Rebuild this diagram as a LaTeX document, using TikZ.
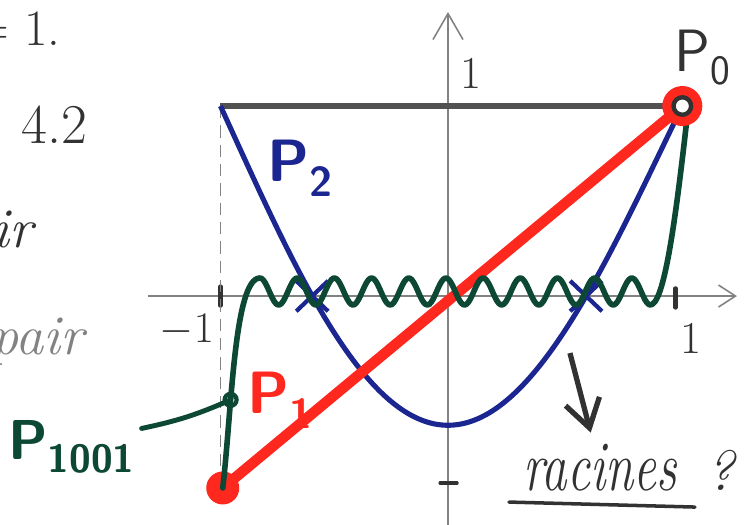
\documentclass[tikz,border=0pt]{standalone}
\usepackage{graphicx}
\usetikzlibrary{arrows.meta}

\definecolor{pred}{RGB}{255,40,30}
\definecolor{pblue}{RGB}{28,38,145}
\definecolor{pgreen}{RGB}{12,72,52}
\definecolor{pencil}{RGB}{50,50,50}
\definecolor{faint}{RGB}{130,130,130}

\newcommand*{\xmin}{-1.32}
\newcommand*{\xmax}{1.27}
\newcommand*{\ymin}{-1.25}
\newcommand*{\ymax}{1.495}
\newcommand*{\handsize}[1]{\fontsize{#1}{#1}\selectfont}

\tikzset{
	axis/.style={faint,line width=0.9pt},
	tickmark/.style={pencil,line width=2.5pt,line cap=round},
	pnum/.style={pencil,font=\handsize{26}},
	plabel/.style={font=\handsize{34}\sffamily},
	note/.style={pencil,font=\handsize{32}\itshape},
}

\begin{document}
\begin{tikzpicture}[x=4.55cm,y=3.8cm]

	\useasboundingbox (-1.969,-1.2) rectangle (1.301,1.558);
	\clip (-1.969,-1.2) rectangle (1.301,1.558);

	% notes in the margin
	\node[pencil,font=\handsize{29},anchor=base east] (eqone) at (-1.675,1.32) {= 1.};
	\node[pencil,font=\handsize{32},anchor=base west] (secnum) at (-1.90,0.805) {4.2};
	\node[note,anchor=base east] (noteir) at (-1.80,0.258) {ir};
	\node[note,text=faint,anchor=base east] (notepair) at (-1.574,-0.31) {pair};

	% axes
	\draw[axis,-{Straight Barb[length=0.34cm,width=0.44cm]}] (\xmin,0) -- (\xmax,0);
	\draw[axis,-{Straight Barb[length=0.52cm,width=0.6cm]}] (0,\ymin) -- (0,\ymax);
	\draw[tickmark] (-1,-0.05) -- (-1,0.05);
	\draw[tickmark] (1,-0.06) -- (1,0.04);
	\draw[tickmark,line width=1.8pt] (-0.035,-0.984) -- (0.04,-0.984);
	\node[pnum] (ytick) at (0.101,1.174) {1};
	\node[pnum] (xtickl) at (-1.147,-0.179) {$-1$};
	\node[pnum] (xtickr) at (1.068,-0.221) {1};

	\coordinate (P0) at (1.03,1);
	\coordinate (Pn) at (-0.99,-1.01);

	\draw[faint,line width=1pt,dash pattern=on 7pt off 4pt] (-1,1) -- (-1,-1);
	\draw[pencil!85,line width=3pt] (-1,1) -- (P0);

	% P_2 and its roots
	\draw[pblue,line width=2.9pt,domain=-1:1,samples=120,smooth] plot ({\x*(1.015+0.015*\x)},{-0.68+2.072*\x*\x-0.392*\x*\x*\x*\x});
	\foreach \r in {-0.597,0.607}
		\draw[pblue,line width=2.4pt] (\r-0.07,0.08) -- (\r+0.07,-0.08) (\r-0.07,-0.08) -- (\r+0.07,0.08);

	% P_1
	\draw[pred,line width=6pt] (Pn) -- (P0);
	\fill[pred] (Pn) circle[radius=0.33cm];

	% P_1001
	\draw[pgreen,line width=3.2pt,line cap=round,line join=round] (Pn) .. controls (-0.95,-0.6) and (-0.94,0.095) .. (-0.826,0.095) coordinate[pos=0.33] (knot)
		-- plot[domain=-0.826:0.89,samples=220,smooth] (\x,{0.024+0.071*cos(360*(\x+0.826)/0.1634)})
		.. controls (0.95,-0.05) and (1.0,0.4) .. (1.05,0.93);
	\draw[pgreen,line width=2.4pt] (knot) circle[radius=0.12cm];
	\node[text=pgreen,font=\handsize{32}\sffamily\bfseries] (labPn) at (-1.653,-0.795) {P\textsubscript{1001}};
	\draw[pgreen,line width=2.8pt,line cap=round] (labPn.15) to[bend right=6] (knot);

	% P_0
	\fill[pred] (P0) circle[radius=0.4cm];
	\filldraw[fill=white,draw=pencil,line width=2.5pt] (P0) circle[radius=0.175cm];

	\node[plabel,text=pencil] (labP0) at (1.121,1.253) {P\textsubscript{0}};
	\node[text=pred,font=\handsize{34}\sffamily\bfseries] (labP1) at (-0.738,-0.547) {P\textsubscript{1}};
	\node[plabel,font=\handsize{34}\sffamily\bfseries,text=pblue] (labP2) at (-0.65,0.674) {P\textsubscript{2}};

	% racines ?
	\coordinate (rootsTail) at (0.536,-0.3);
	\node[note,font=\handsize{29}\itshape,anchor=base] (racines) at (0.668,-1.021) {\scalebox{1}[1.4]{racines}};
	\node[note,anchor=base west] (quest) at ([xshift=0.35cm]racines.base east) {?};
	\draw[pencil,line width=3pt,-{Straight Barb[length=0.55cm,width=0.7cm]},shorten >=0.1cm] (rootsTail) -- ([xshift=-0.16cm]racines.north);
	\draw[pencil,line width=2pt,line cap=round] ([xshift=-0.16cm,yshift=-0.24cm]racines.base west) -- ([xshift=0.24cm,yshift=-0.34cm]racines.base east);

\end{tikzpicture}
\end{document}
